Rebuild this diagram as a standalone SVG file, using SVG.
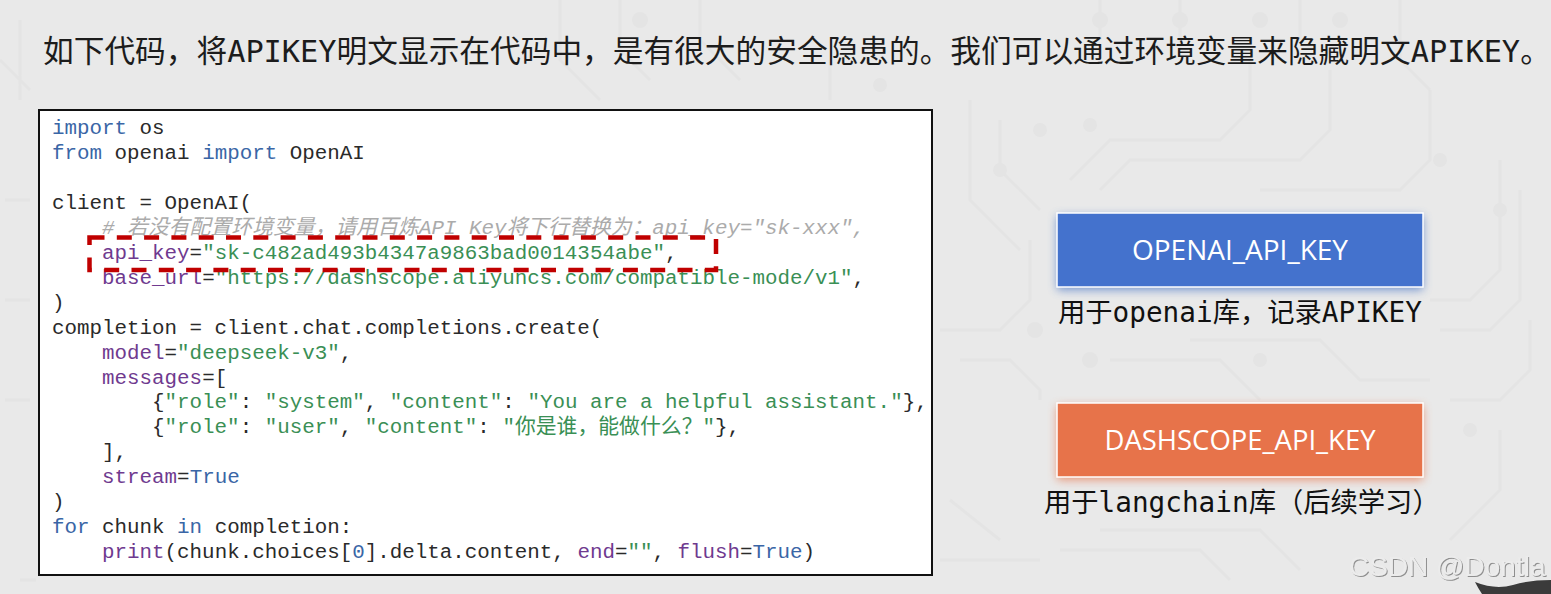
<svg xmlns="http://www.w3.org/2000/svg" width="1551" height="594" viewBox="0 0 1551 594">
<defs>
<style>
text{white-space:pre}
.trace{fill:none;stroke:#e4e4e4;stroke-width:3}
.pad{fill:#e4e4e4}
.t1{font-family:"Noto Sans CJK SC",sans-serif;font-size:30.7px;fill:#1c1c1c}
.t2{font-family:"DejaVu Sans Mono",monospace;font-size:30.3px;fill:#1c1c1c}
.c1{font-family:"Noto Sans CJK SC",sans-serif;font-size:27.3px;fill:#111}
.c2{font-family:"DejaVu Sans Mono",monospace;font-size:27.7px;fill:#111}
.code{font-family:"Liberation Mono","Noto Sans CJK SC",monospace;font-size:20.85px;fill:#2a2a2a}
.k{fill:#3a66a6}.a{fill:#6f3a8f}.s{fill:#3a8f55}
.cm{fill:#ababab;font-style:italic}
.box{stroke:#fff;stroke-width:1.5}
.lbl{font-family:"Open Sans",sans-serif;font-size:26.5px;fill:#fff;text-anchor:middle}
</style>
<filter id="glowB" x="-10%" y="-30%" width="120%" height="170%"><feGaussianBlur stdDeviation="5"/></filter>
<filter id="emboss" x="-5%" y="-20%" width="110%" height="150%"><feDropShadow dx="1" dy="1" stdDeviation="0.6" flood-color="#8e8e8e"/></filter>
</defs>
<rect width="1551" height="594" fill="#e9e9e9"/>
<g id="background">
<path class="trace" d="M940 330H1000L1030 300V240M960 360H1010L1040 390V400M1430 300H1470L1500 270V160M1440 330H1490L1520 300V190M1450 400H1500L1530 370V320M1070 180L1110 140H1220L1250 110V60M1100 190L1130 160H1300L1330 130V70M1190 340H1320L1360 380H1430M1110 360H1220L1260 400M1260 190H1400L1430 160V90M1000 120V170L1040 210M970 100V200L1020 250M1450 540L1500 490V430M1100 530H1260L1300 570M1060 550H1200L1230 580"/>
<path class="trace" d="M20 20V100M0 60L30 90M560 0V60L600 100M620 0V50L650 80M700 0V40L740 80M830 60V100M1100 0V40M1180 0V50M1300 0V40M1400 0V60L1430 90M20 580H36M940 560H1040M950 500L1000 540M5 300H30M5 400H30M5 200H30"/>
<circle class="pad" cx="1000" cy="170" r="7"/><circle class="pad" cx="1040" cy="130" r="7"/><circle class="pad" cx="1090" cy="125" r="7"/><circle class="pad" cx="1440" cy="160" r="7"/><circle class="pad" cx="1500" cy="210" r="7"/><circle class="pad" cx="1035" cy="330" r="8"/><circle class="pad" cx="1090" cy="360" r="8"/><circle class="pad" cx="1260" cy="360" r="7"/><circle class="pad" cx="1470" cy="430" r="7"/><circle class="pad" cx="1100" cy="20" r="8"/><circle class="pad" cx="1180" cy="20" r="8"/><circle class="pad" cx="1260" cy="20" r="8"/><circle class="pad" cx="1340" cy="20" r="8"/><circle class="pad" cx="640" cy="20" r="8"/><circle class="pad" cx="880" cy="85" r="7"/>
</g>
<g id="title">
<text x="43" y="62"><tspan class="t1">如下代码，将</tspan><tspan class="t2">APIKEY</tspan><tspan class="t1">明文显示在代码中，是有很大的安全隐患的。我们可以通过环境变量来隐藏明文</tspan><tspan class="t2">APIKEY</tspan><tspan class="t1">。</tspan></text>
</g>
<g id="code-panel">
<rect x="39" y="110" width="893" height="465" fill="#fff" stroke="#111" stroke-width="2"/>
<g>
<text class="code" x="52" y="134"><tspan class="k">import</tspan> os</text>
<text class="code" x="52" y="159"><tspan class="k">from</tspan> openai <tspan class="k">import</tspan> OpenAI</text>
<text class="code" x="52" y="209">client = OpenAI(</text>
<text class="code" x="52" y="234">    <tspan class="cm"># 若没有配置环境变量，请用百炼API Key将下行替换为：api_key="sk-xxx",</tspan></text>
<text class="code" x="52" y="259">    <tspan class="a">api_key</tspan>=<tspan class="s">"sk-c482ad493b4347a9863bad0014354abe"</tspan>,</text>
<text class="code" x="52" y="284">    <tspan class="a">base_url</tspan>=<tspan class="s">"https://dashscope.aliyuncs.com/compatible-mode/v1"</tspan>,</text>
<text class="code" x="52" y="309">)</text>
<text class="code" x="52" y="334">completion = client.chat.completions.create(</text>
<text class="code" x="52" y="359">    <tspan class="a">model</tspan>=<tspan class="s">"deepseek-v3"</tspan>,</text>
<text class="code" x="52" y="384">    <tspan class="a">messages</tspan>=[</text>
<text class="code" x="52" y="408">        {<tspan class="s">"role"</tspan>: <tspan class="s">"system"</tspan>, <tspan class="s">"content"</tspan>: <tspan class="s">"You are a helpful assistant."</tspan>},</text>
<text class="code" x="52" y="433">        {<tspan class="s">"role"</tspan>: <tspan class="s">"user"</tspan>, <tspan class="s">"content"</tspan>: <tspan class="s">"你是谁，能做什么？"</tspan>},</text>
<text class="code" x="52" y="458">    ],</text>
<text class="code" x="52" y="483">    <tspan class="a">stream</tspan>=<tspan class="k">True</tspan></text>
<text class="code" x="52" y="508">)</text>
<text class="code" x="52" y="533"><tspan class="k">for</tspan> chunk <tspan class="k">in</tspan> completion:</text>
<text class="code" x="52" y="558">    <tspan class="a">print</tspan>(chunk.choices[<tspan class="k">0</tspan>].delta.content, <tspan class="a">end</tspan>=<tspan class="s">""</tspan>, <tspan class="a">flush</tspan>=<tspan class="k">True</tspan>)</text>
</g>
<rect x="89.5" y="237.5" width="626.5" height="32.5" fill="none" stroke="#c00000" stroke-width="4.5" stroke-dasharray="15 12.3"/>
</g>
<g id="openai-key">
<rect x="1057" y="216" width="366" height="74" fill="#4472c4" opacity="0.7" filter="url(#glowB)"/>
<rect class="box" x="1057" y="213" width="366" height="74" fill="#4472cd"/>
<text class="lbl" x="1240" y="260" textLength="216" lengthAdjust="spacingAndGlyphs">OPENAI_API_KEY</text>
<text x="1058" y="322"><tspan class="c1">用于</tspan><tspan class="c2">openai</tspan><tspan class="c1">库，记录</tspan><tspan class="c2">APIKEY</tspan></text>
</g>
<g id="dashscope-key">
<rect x="1057" y="406" width="366" height="74" fill="#e7734a" opacity="0.7" filter="url(#glowB)"/>
<rect class="box" x="1057" y="403" width="366" height="74" fill="#e7734a"/>
<text class="lbl" x="1240" y="450" textLength="271" lengthAdjust="spacingAndGlyphs">DASHSCOPE_API_KEY</text>
<text x="1044" y="512"><tspan class="c1">用于</tspan><tspan class="c2">langchain</tspan><tspan class="c1">库（后续学习）</tspan></text>
</g>
<g id="watermark">
<path d="M1475 582Q1495 590 1513 585Q1530 580 1551 580V594H1482Q1478 588 1475 582Z" fill="#3b3b3b"/>
<text x="1349" y="576" font-family="Liberation Sans, sans-serif" font-size="28" fill="#ececec" filter="url(#emboss)">CSDN @Dontla</text>
</g>
</svg>
